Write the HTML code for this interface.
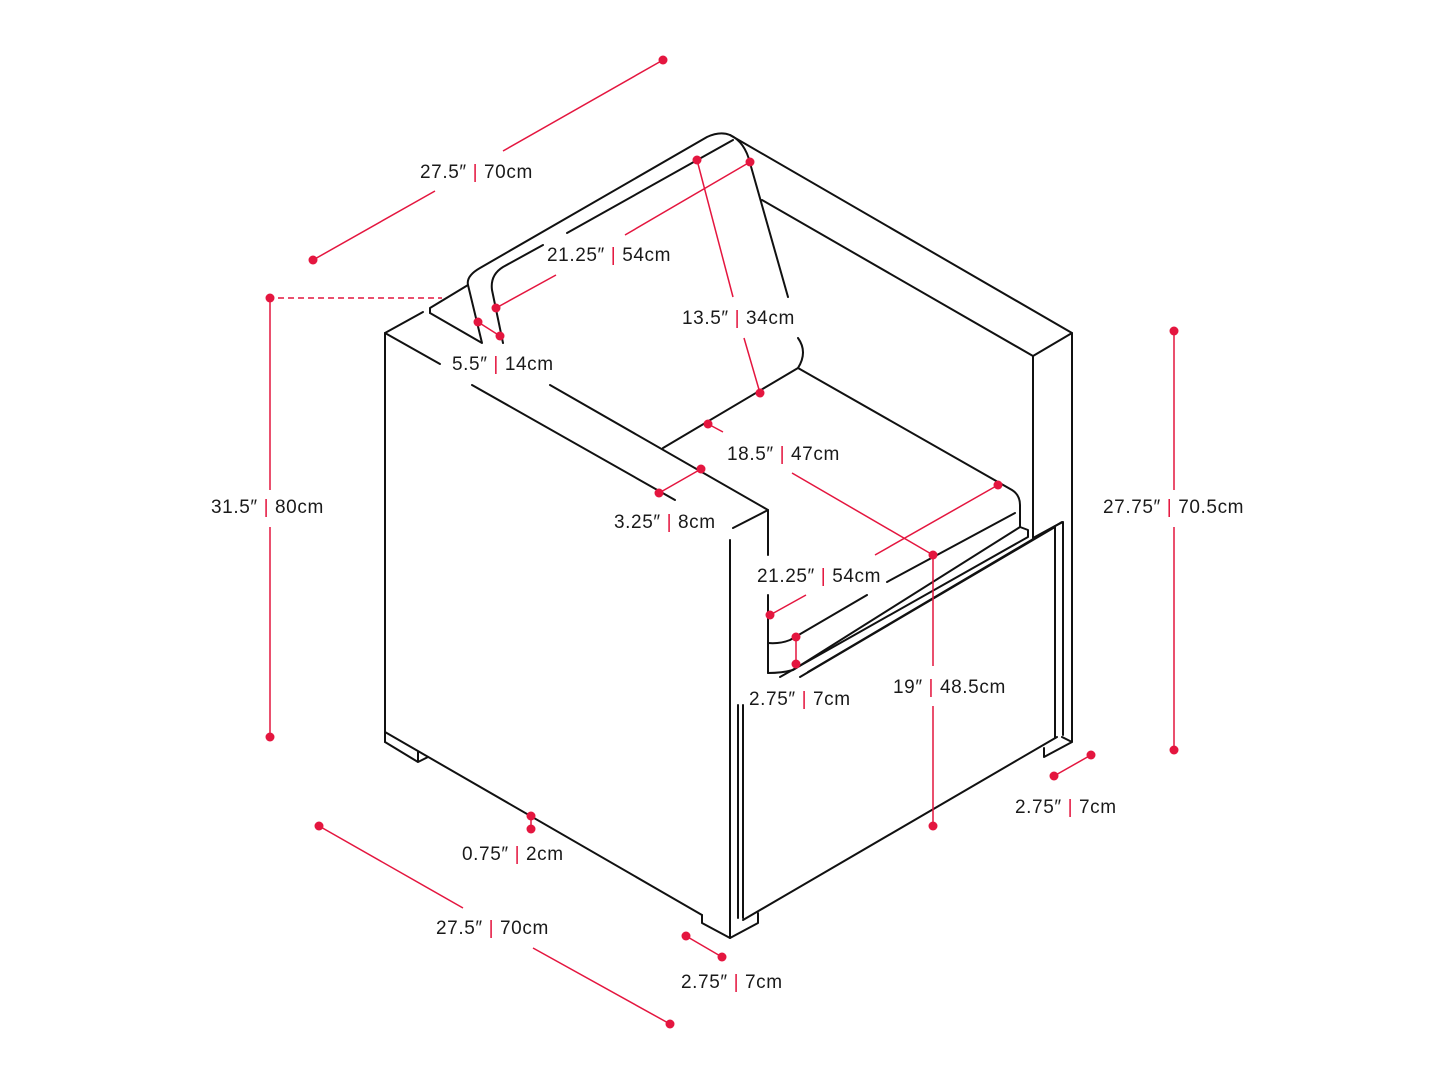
<!DOCTYPE html>
<html><head><meta charset="utf-8"><style>
html,body{margin:0;padding:0;background:#fff;}
svg{display:block}
text{font-family:"Liberation Sans",sans-serif;font-size:19px;letter-spacing:0.6px;fill:#1a1a1a}
.r{fill:#e4163f}
</style></head><body>
<svg width="1445" height="1084" viewBox="0 0 1445 1084" xmlns="http://www.w3.org/2000/svg">
<g fill="none" stroke="#111" stroke-width="2" stroke-linejoin="round" stroke-linecap="round">
<path d="M385,333 L423,312"/>
<path d="M385,333 L385,742"/>
<path d="M385,333 L440,364"/>
<path d="M472,385 L675,500"/>
<path d="M550,385 L768,510 L733,528"/>
<path d="M768,510 L768,555"/>
<path d="M768,595 L768,673"/>
<path d="M730,540 L730,938"/>
<path d="M738,705 L738,918 M743,705 L743,918"/>
<path d="M385,732 L702,915"/>
<path d="M385,742 L418,762 L418,752 M418,762 L428,757"/>
<path d="M702,915 L702,923 L730,938 L758,923 L758,913"/>
<path d="M743,920 L1057,737"/>
<path d="M430,313 L430,308 L468,285 Q466,276 480,268 L707,137 Q720,131 730,135 Q745,142 750,163 L788,297"/>
<path d="M468,285 L482,343 L430,313"/>
<path d="M733,140 L567,233"/>
<path d="M543,245 L503,267 Q490,275 492,290 L503,343"/>
<path d="M798,338 Q808,352 798,368 L663,448"/>
<path d="M730,135 L1072,333 L1033,356 L762,200"/>
<path d="M1072,333 L1072,742 L1044,757 L1044,748 M1072,742 L1062,737"/>
<path d="M1033,356 L1033,538 L1055,526 L1063,522 L1063,735"/>
<path d="M1055,527 L1055,738"/>
<path d="M798,368 L1012,490 Q1020,495 1020,505 L1020,527"/>
<path d="M1015,513 L887,582"/>
<path d="M867,595 L790,640 Q780,644 768,643"/>
<path d="M1020,527 L793,670 Q782,673 768,673"/>
<path d="M1020,527 L1028,530 L1028,537 L780,677"/>
<path d="M1055,527 L800,677"/>
<path d="M1062,522 L808,672"/>
</g>
<g stroke="#e4163f" stroke-width="1.5" fill="none">
<path d="M313,260 L435,191 M503,151 L663,60"/>
<path d="M270,298 L270,490 M270,527 L270,737"/>
<path d="M278,298 L442,298" stroke-dasharray="6,4"/>
<path d="M496,308 L556,275 M625,235 L750,162"/>
<path d="M697,160 L733,297 M744,338 L760,393"/>
<path d="M478,322 L500,336"/>
<path d="M708,424 L723,432 M792,473 L933,555 L933,666 M933,706 L933,826"/>
<path d="M659,493 L701,469"/>
<path d="M770,615 L806,595 M875,555 L998,485"/>
<path d="M796,637 L796,664"/>
<path d="M1174,331 L1174,490 M1174,527 L1174,750"/>
<path d="M1054,776 L1091,755"/>
<path d="M531,816 L531,829"/>
<path d="M319,826 L463,908 M533,948 L670,1024"/>
<path d="M686,936 L722,957"/>
</g>
<g class="r">
<circle cx="313" cy="260" r="4.5"/><circle cx="663" cy="60" r="4.5"/>
<circle cx="270" cy="298" r="4.5"/><circle cx="270" cy="737" r="4.5"/>
<circle cx="496" cy="308" r="4.5"/><circle cx="750" cy="162" r="4.5"/>
<circle cx="697" cy="160" r="4.5"/><circle cx="760" cy="393" r="4.5"/>
<circle cx="478" cy="322" r="4.5"/><circle cx="500" cy="336" r="4.5"/>
<circle cx="708" cy="424" r="4.5"/><circle cx="933" cy="555" r="4.5"/><circle cx="933" cy="826" r="4.5"/>
<circle cx="659" cy="493" r="4.5"/><circle cx="701" cy="469" r="4.5"/>
<circle cx="770" cy="615" r="4.5"/><circle cx="998" cy="485" r="4.5"/>
<circle cx="796" cy="637" r="4.5"/><circle cx="796" cy="664" r="4.5"/>
<circle cx="1174" cy="331" r="4.5"/><circle cx="1174" cy="750" r="4.5"/>
<circle cx="1054" cy="776" r="4.5"/><circle cx="1091" cy="755" r="4.5"/>
<circle cx="531" cy="816" r="4.5"/><circle cx="531" cy="829" r="4.5"/>
<circle cx="319" cy="826" r="4.5"/><circle cx="670" cy="1024" r="4.5"/>
<circle cx="686" cy="936" r="4.5"/><circle cx="722" cy="957" r="4.5"/>
</g>
<text x="420" y="178">27.5″ <tspan class="r">|</tspan> 70cm</text>
<text x="547" y="261">21.25″ <tspan class="r">|</tspan> 54cm</text>
<text x="682" y="324">13.5″ <tspan class="r">|</tspan> 34cm</text>
<text x="452" y="370">5.5″ <tspan class="r">|</tspan> 14cm</text>
<text x="727" y="460">18.5″ <tspan class="r">|</tspan> 47cm</text>
<text x="211" y="513">31.5″ <tspan class="r">|</tspan> 80cm</text>
<text x="614" y="528">3.25″ <tspan class="r">|</tspan> 8cm</text>
<text x="1103" y="513">27.75″ <tspan class="r">|</tspan> 70.5cm</text>
<text x="757" y="582">21.25″ <tspan class="r">|</tspan> 54cm</text>
<text x="893" y="693">19″ <tspan class="r">|</tspan> 48.5cm</text>
<text x="749" y="705">2.75″ <tspan class="r">|</tspan> 7cm</text>
<text x="1015" y="813">2.75″ <tspan class="r">|</tspan> 7cm</text>
<text x="462" y="860">0.75″ <tspan class="r">|</tspan> 2cm</text>
<text x="436" y="934">27.5″ <tspan class="r">|</tspan> 70cm</text>
<text x="681" y="988">2.75″ <tspan class="r">|</tspan> 7cm</text>
</svg>
</body></html>
